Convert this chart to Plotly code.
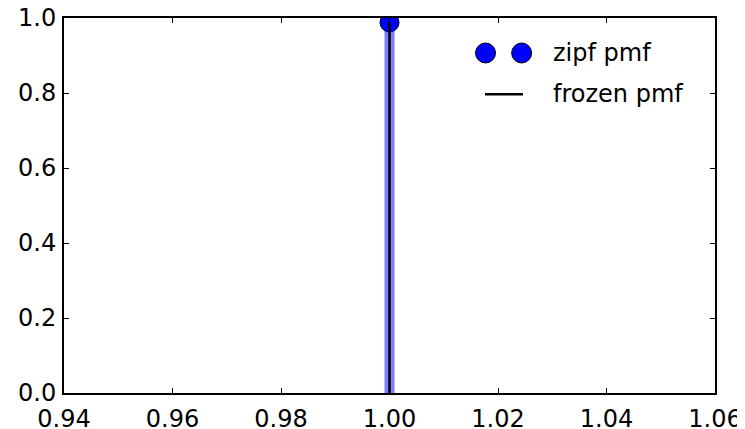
import plotly.graph_objects as go

# Data
x_vals = [1.0]
pmf_vals = [0.988]          # zipf pmf (a=6.5) at k=1
frozen_vals = [0.988]       # frozen pmf
x_ticks = [0.94, 0.96, 0.98, 1.00, 1.02, 1.04, 1.06]
y_ticks = [0.0, 0.2, 0.4, 0.6, 0.8, 1.0]

FONT = dict(family="DejaVu Sans", size=24, color="black")

fig = go.Figure()

# zipf pmf markers
fig.add_trace(go.Scatter(x=x_vals, y=pmf_vals, mode="markers",
                         marker=dict(color="blue", size=19, line=dict(color="black", width=1)),
                         showlegend=False))

# blue vlines (alpha 0.5)
for xv, yv in zip(x_vals, pmf_vals):
    fig.add_trace(go.Scatter(x=[xv, xv], y=[0, yv], mode="lines",
                             line=dict(color="rgba(0,0,255,0.5)", width=10),
                             showlegend=False))
# frozen pmf black vlines
for xv, yv in zip(x_vals, frozen_vals):
    fig.add_trace(go.Scatter(x=[xv, xv], y=[0, yv], mode="lines",
                             line=dict(color="black", width=2.5),
                             showlegend=False))

axis_common = dict(showgrid=False, zeroline=False, showline=True, linecolor="black",
                   linewidth=2, mirror="ticks", ticks="inside", ticklen=5, tickwidth=1,
                   tickcolor="black", tickfont=FONT, automargin=False,
                   ticklabeloverflow="allow")

fig.update_xaxes(range=[0.94, 1.06], tickvals=x_ticks, ticklabelstandoff=3,
                 ticktext=[f"{v:.2f}" for v in x_ticks], **axis_common)
fig.update_yaxes(range=[0.0, 1.0], tickvals=y_ticks, ticklabelstandoff=1,
                 ticktext=[f"{v:.1f}" for v in y_ticks], **axis_common)

# Manual legend (matplotlib classic style with two markers)
leg_y1 = 0.9067
leg_y2 = 0.797
for cx in [0.6475, 0.703]:
    fig.add_shape(type="circle", xref="paper", yref="paper",
                  xsizemode="pixel", ysizemode="pixel",
                  xanchor=cx, yanchor=leg_y1,
                  x0=-10, x1=10, y0=-10, y1=10,
                  fillcolor="blue", line=dict(color="black", width=1))
fig.add_shape(type="line", xref="paper", yref="paper",
              x0=0.6467, x1=0.705, y0=leg_y2, y1=leg_y2,
              line=dict(color="black", width=2.5))
fig.add_annotation(x=0.748, y=leg_y1, xref="paper", yref="paper", text="zipf pmf",
                   showarrow=False, xanchor="left", yanchor="middle", font=FONT)
fig.add_annotation(x=0.748, y=leg_y2, xref="paper", yref="paper", text="frozen pmf",
                   showarrow=False, xanchor="left", yanchor="middle", font=FONT)

# page body has an 8px margin, so the figure is shrunk by 8px to fit the window
fig.update_layout(template="none", width=737, height=421,
                  margin=dict(l=56, r=30, t=10, b=36, autoexpand=False),
                  paper_bgcolor="white", plot_bgcolor="white", showlegend=False,
                  font=FONT)

fig.write_html("out.html")
